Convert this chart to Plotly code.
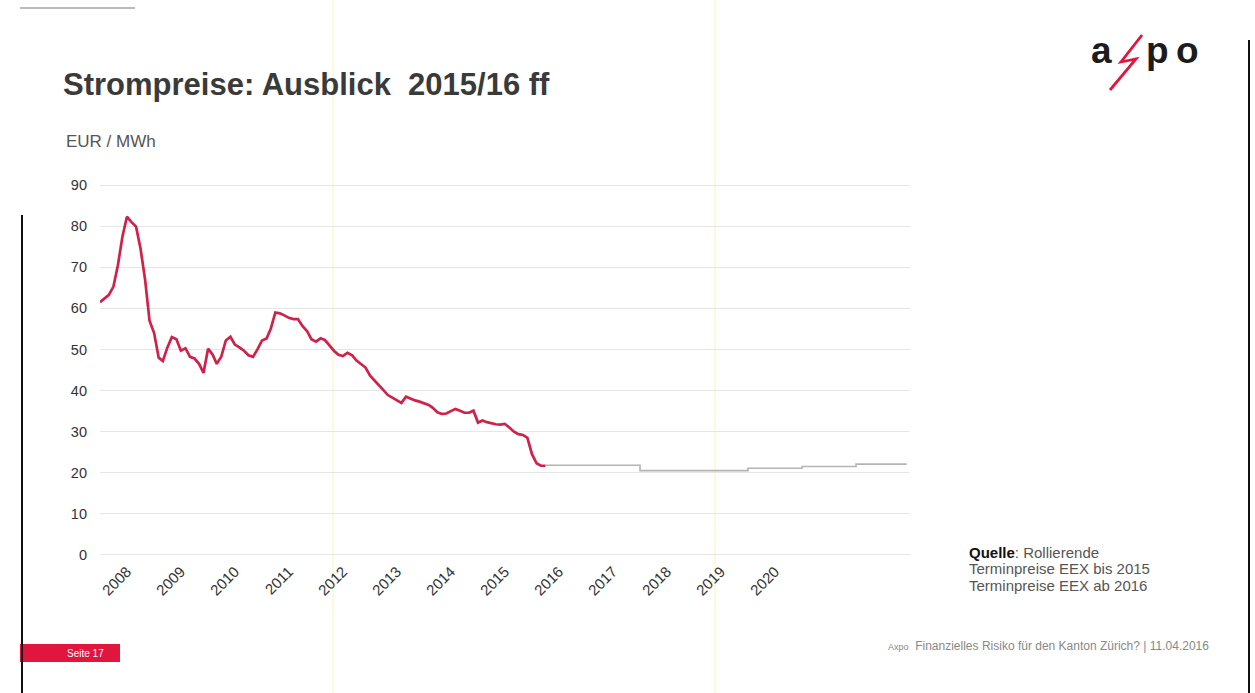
import plotly.graph_objects as go
import pandas as pd

# ---------------- data ----------------
spot_start = "2008-01-01"
# rolling forward prices EEX, monthly, EUR/MWh
spot_values = [
    61.5, 62.5, 63.3, 65.3, 70.5, 77.5, 82.3, 81.0, 79.9, 74.6, 67.0, 57.0,   # 2008
    54.0, 48.0, 47.2, 50.5, 53.0, 52.5, 49.7, 50.3, 48.2, 47.8, 46.5, 44.3,   # 2009
    50.2, 48.7, 46.5, 48.3, 52.2, 53.1, 51.2, 50.5, 49.7, 48.6, 48.2, 50.0,   # 2010
    52.2, 52.7, 55.0, 59.0, 58.8, 58.3, 57.7, 57.4, 57.4, 55.7, 54.5, 52.5,   # 2011
    51.9, 52.7, 52.3, 51.0, 49.7, 48.7, 48.4, 49.2, 48.6, 47.3, 46.5, 45.6,   # 2012
    43.6, 42.3, 41.2, 40.1, 38.9, 38.2, 37.6, 37.0, 38.5, 38.0, 37.6, 37.3,   # 2013
    36.9, 36.5, 35.8, 34.7, 34.3, 34.4, 35.0, 35.5, 35.1, 34.6, 34.6, 35.1,   # 2014
    32.2, 32.7, 32.3, 32.0, 31.8, 31.7, 31.9, 31.0, 30.0, 29.4, 29.2, 28.5,   # 2015
    24.5, 22.3, 21.7, 21.7,                                                   # 2016
]
forecast_years = [2016, 2017, 2018, 2019, 2020, 2021, 2022]
forecast_values = [21.8, 21.8, 20.5, 20.5, 21.1, 21.5, 22.1]

tick_years = [2008, 2009, 2010, 2011, 2012, 2013, 2014, 2015, 2016, 2017, 2018, 2019, 2020]
y_ticks = [0, 10, 20, 30, 40, 50, 60, 70, 80, 90]

title_text = "Strompreise: Ausblick  2015/16 ff"
unit_text = "EUR / MWh"
source_lines = ["<b style='color:#111111'>Quelle</b>: Rollierende", "Terminpreise EEX bis 2015", "Terminpreise EEX ab 2016"]
footer_text = "<span style='font-size:9px'>Axpo</span>  Finanzielles Risiko für den Kanton Zürich? | 11.04.2016"
page_text = "Seite 17"

# ---------------- layout geometry ----------------
W_PX, H_PX = 1255, 693
L, R, T, B = 100, 345, 181, 134
PW = W_PX - L - R
PH = H_PX - T - B


def px(x):
    return (x - L) / PW


def py(y):
    return (H_PX - B - y) / PH


spot_dates = pd.date_range(spot_start, periods=len(spot_values), freq="MS")
fc_x = [spot_dates[-1]] + [pd.Timestamp(f"{y}-01-01") for y in forecast_years[1:]] + [pd.Timestamp("2022-12-10")]
fc_y = forecast_values + [forecast_values[-1]]

FONT = "Liberation Sans, Arial, sans-serif"

fig = go.Figure()
fig.add_trace(go.Scatter(
    x=fc_x, y=fc_y, mode="lines", line=dict(color="#b4b4b4", width=1.6, shape="hv"),
    hoverinfo="skip", showlegend=False))
fig.add_trace(go.Scatter(
    x=spot_dates, y=spot_values, mode="lines", line=dict(color="#cf2149", width=2.7),
    showlegend=False))

fig.update_xaxes(
    type="date", range=["2008-01-01", "2023-01-01"],
    tickvals=[f"{y}-07-01" for y in tick_years], ticktext=[str(y) for y in tick_years],
    tickangle=-45, showgrid=False, zeroline=False, showline=False, ticks="",
    tickfont=dict(family=FONT, size=15, color="#333333"))
fig.update_yaxes(
    range=[-1, 91], tickvals=y_ticks, showgrid=True, gridcolor="#e6e6e6", gridwidth=1,
    zeroline=False, showline=False, ticks="", ticklabelstandoff=12,
    tickfont=dict(family=FONT, size=14.5, color="#333333"))

ann = []
ann.append(dict(x=px(61), y=py(84), xref="paper", yref="paper", xanchor="left", yanchor="middle",
                text=f"<b>{title_text}</b>", showarrow=False,
                font=dict(family=FONT, size=31, color="#3a3a3a")))
ann.append(dict(x=px(64), y=py(142), xref="paper", yref="paper", xanchor="left", yanchor="middle",
                text=unit_text, showarrow=False, font=dict(family=FONT, size=17, color="#555555")))
for txt, yy in zip(source_lines, [552, 568, 585]):
    ann.append(dict(x=px(967), y=py(yy), xref="paper", yref="paper", xanchor="left", yanchor="middle",
                    text=txt, showarrow=False, font=dict(family=FONT, size=15, color="#555555")))
ann.append(dict(x=px(886), y=py(646), xref="paper", yref="paper", xanchor="left", yanchor="middle",
                text=footer_text, showarrow=False, font=dict(family=FONT, size=12, color="#888888")))
ann.append(dict(x=px(85), y=py(653), xref="paper", yref="paper", xanchor="center", yanchor="middle",
                text=page_text, showarrow=False, font=dict(family=FONT, size=10, color="#ffffff")))
# logo letters
for ch, cx in [("a", 1101), ("p", 1157), ("o", 1187)]:
    ann.append(dict(x=px(cx), y=py(50), xref="paper", yref="paper", xanchor="center", yanchor="middle",
                    text=f"<b>{ch}</b>", showarrow=False, font=dict(family=FONT, size=37, color="#1c1c1c")))

shapes = []
# page tag
shapes.append(dict(type="rect", xref="paper", yref="paper", x0=px(20), x1=px(120), y0=py(662), y1=py(644),
                   fillcolor="#e0163f", line=dict(width=0), layer="below"))
# logo bolt
bolt = f"M {px(1142)} {py(35)} L {px(1121)} {py(62)} L {px(1136)} {py(59)} L {px(1110)} {py(90)}"
shapes.append(dict(type="path", xref="paper", yref="paper", path=bolt,
                   line=dict(color="#e0163f", width=2.8)))
# scan artefacts: page edges and faint streaks
shapes.append(dict(type="line", xref="paper", yref="paper", x0=px(22), x1=px(22), y0=py(215), y1=py(693),
                   line=dict(color="#111111", width=2)))
shapes.append(dict(type="line", xref="paper", yref="paper", x0=px(1249), x1=px(1249), y0=py(40), y1=py(693),
                   line=dict(color="#111111", width=2)))
shapes.append(dict(type="line", xref="paper", yref="paper", x0=px(20), x1=px(135), y0=py(8), y1=py(8),
                   line=dict(color="#777777", width=1)))
for sx in [333, 715]:
    shapes.append(dict(type="line", xref="paper", yref="paper", x0=px(sx), x1=px(sx), y0=py(0), y1=py(693),
                       line=dict(color="#fcfadc", width=2), layer="below"))

fig.update_layout(
    width=W_PX, height=H_PX, autosize=False,
    margin=dict(l=L, r=R, t=T, b=B, pad=0),
    paper_bgcolor="#ffffff", plot_bgcolor="#ffffff",
    annotations=ann, shapes=shapes, showlegend=False,
    font=dict(family=FONT),
)

fig.write_html("out.html")
